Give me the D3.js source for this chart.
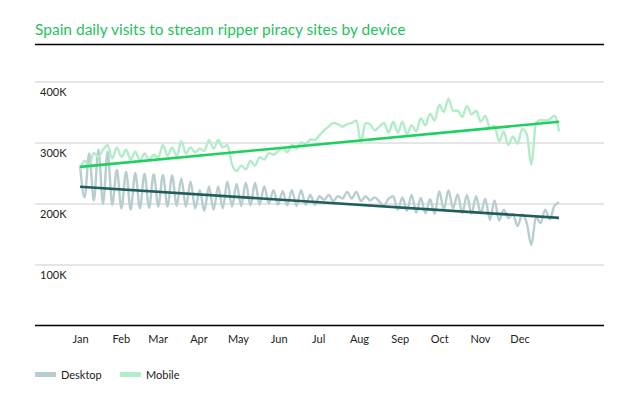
<!DOCTYPE html>
<html>
<head>
<meta charset="utf-8">
<script src="https://cdn.jsdelivr.net/npm/d3@7"></script>
<style>
  html, body { margin: 0; padding: 0; background: #fff; }
  svg { display: block; font-family: Lato, "Noto Sans", sans-serif; }
</style>
</head>
<body>
<svg id="chart" width="634" height="412"></svg>
<script>
// ---- data (values in thousands of visits, sampled every half week of 2018) ----
const titleText = "Spain daily visits to stream ripper piracy sites by device";
const seriesNames = ["Desktop", "Mobile"];
const yTickValues = [100, 200, 300, 400];
const yTickLabels = ["100K", "200K", "300K", "400K"];
const monthLabels = ["Jan","Feb","Mar","Apr","May","Jun","Jul","Aug","Sep","Oct","Nov","Dec"];

const desktopValues = [
  262,210,282,205,288,200,285,198,255,192,252,190,250,192,249,193,248,195,247,195,
  246,196,241,195,236,192,222,188,228,190,228,192,236,195,232,196,234,197,234,198,
  228,200,222,198,220,197,222,196,222,198,214,198,212,206,214,204,212,208,219,208,
  219,204,212,205,210,203,197,208,212,190,210,188,214,185,209,184,207,183,220,190,
  222,192,215,184,214,183,212,184,208,173,205,172,190,176,183,163,182,168,132,178,
  168,190,174,196,202
];
const mobileValues = [
  255,270,262,283,276,288,296,274,292,276,288,272,285,270,282,272,280,275,296,278,
  292,278,302,282,292,284,290,286,304,290,304,292,296,264,253,262,256,270,262,276,
  272,283,280,286,291,284,296,290,300,298,305,304,312,320,326,332,330,326,330,332,
  336,301,332,330,320,326,332,316,334,316,334,314,328,318,340,328,347,336,362,350,
  372,352,352,342,360,346,352,334,344,324,327,302,318,296,310,298,322,314,264,332,
  337,336,338,344,318
];
// linear trend lines: value at Jan 1 and at Dec 31
const desktopTrend = [227.5, 176.5];
const mobileTrend = [260, 334];

// ---- layout ----
const svg = d3.select("#chart");
const W = 634;
const left = 35, right = 604;
const startDate = new Date(2018, 0, 1), endDate = new Date(2018, 11, 31);
const dayMs = 86400000;

const x = d3.scaleTime().domain([startDate, endDate]).range([80, 559]);
const y = d3.scaleLinear().domain([0, 400]).range([325.5, 81.5]);

const colors = {
  title: "#1fc35c",
  desktop: "#b8cece",
  mobile: "#b2ecc8",
  desktopTrend: "#1f5e5d",
  mobileTrend: "#1ed15f"
};

// title
svg.append("text")
  .attr("x", left).attr("y", 35)
  .attr("fill", colors.title)
  .style("font-size", "15.5px")
  .text(titleText);
svg.append("line")
  .attr("x1", left).attr("x2", right)
  .attr("y1", 44.5).attr("y2", 44.5)
  .attr("stroke", "#000").attr("stroke-width", 1.5);

// y gridlines + labels
const yAxis = d3.axisRight(y)
  .tickValues(yTickValues)
  .tickSize(right - left)
  .tickFormat((d, i) => yTickLabels[i]);
const gy = svg.append("g").attr("transform", `translate(${left},0)`).call(yAxis);
gy.select(".domain").remove();
gy.selectAll(".tick line").attr("stroke", "#cccccc").attr("stroke-width", 1);
gy.selectAll(".tick text")
  .attr("x", 5).attr("dy", 13.5)
  .attr("text-anchor", "start")
  .attr("fill", "#222")
  .style("font-size", "11px")
  .style("font-family", "Lato, 'Noto Sans', sans-serif");

// series
const toPoints = vals => vals.map((v, i) => ({
  date: new Date(startDate.getTime() + i * 3.5 * dayMs),
  value: v
}));
const line = d3.line()
  .x(d => x(d.date))
  .y(d => y(d.value))
  .curve(d3.curveMonotoneX);

svg.append("path")
  .datum(toPoints(desktopValues))
  .attr("d", line)
  .attr("fill", "none")
  .attr("stroke", colors.desktop)
  .attr("stroke-width", 2.4)
  .attr("stroke-linejoin", "round");
svg.append("path")
  .datum(toPoints(mobileValues))
  .attr("d", line)
  .attr("fill", "none")
  .attr("stroke", colors.mobile)
  .attr("stroke-width", 2.4)
  .attr("stroke-linejoin", "round");

const trendLine = d3.line().x(d => x(d.date)).y(d => y(d.value));
const trendPts = t => [{date: startDate, value: t[0]}, {date: endDate, value: t[1]}];
svg.append("path")
  .datum(trendPts(mobileTrend))
  .attr("d", trendLine)
  .attr("fill", "none")
  .attr("stroke", colors.mobileTrend)
  .attr("stroke-width", 2.6);
svg.append("path")
  .datum(trendPts(desktopTrend))
  .attr("d", trendLine)
  .attr("fill", "none")
  .attr("stroke", colors.desktopTrend)
  .attr("stroke-width", 2.6);

// baseline
svg.append("line")
  .attr("x1", left).attr("x2", right)
  .attr("y1", y(0)).attr("y2", y(0))
  .attr("stroke", "#000").attr("stroke-width", 1.5);

// x axis month labels
const xAxis = d3.axisBottom(x)
  .tickValues(d3.timeMonths(startDate, endDate))
  .tickSize(0)
  .tickFormat((d, i) => monthLabels[i]);
const gx = svg.append("g").attr("transform", `translate(0,${y(0)})`).call(xAxis);
gx.select(".domain").remove();
gx.selectAll(".tick text")
  .attr("y", 10).attr("dy", "0.71em")
  .attr("fill", "#222")
  .style("font-size", "11px")
  .style("font-family", "Lato, 'Noto Sans', sans-serif");

// legend
const legend = svg.append("g").attr("transform", "translate(35,372)");
const legItems = [
  {name: seriesNames[0], color: colors.desktop, x: 0},
  {name: seriesNames[1], color: colors.mobile, x: 85}
];
const li = legend.selectAll("g").data(legItems).join("g")
  .attr("transform", d => `translate(${d.x},0)`);
li.append("rect").attr("width", 21).attr("height", 5).attr("y", 0).attr("fill", d => d.color);
li.append("text").attr("x", 26).attr("y", 7)
  .attr("fill", "#222")
  .style("font-size", "11px")
  .text(d => d.name);
</script>
</body>
</html>
